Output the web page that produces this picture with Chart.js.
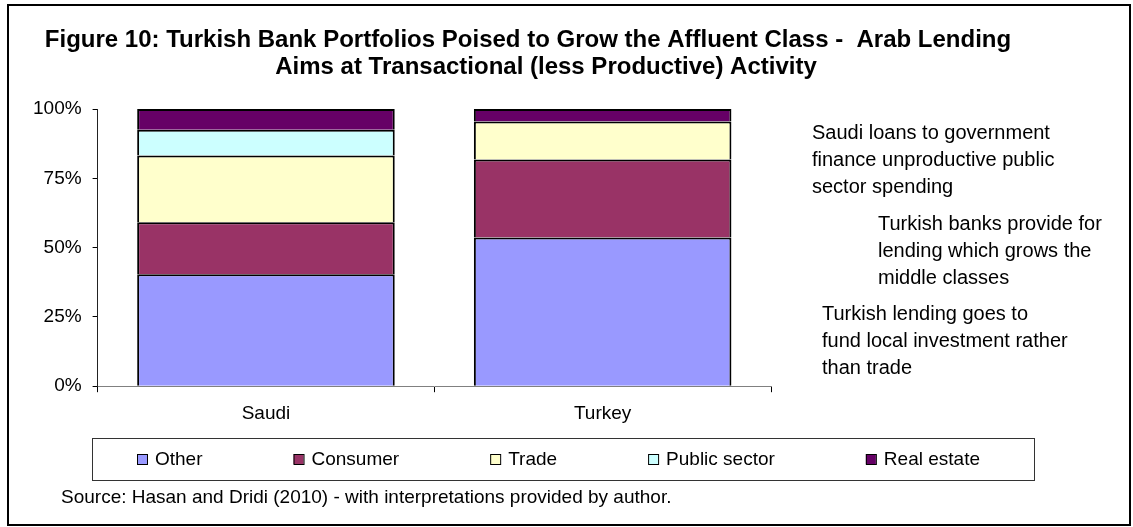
<!DOCTYPE html>
<html>
<head>
<meta charset="utf-8">
<script src="https://cdn.jsdelivr.net/npm/chart.js@4.4.1/dist/chart.umd.min.js"></script>
<style>
    html, body { margin: 0; padding: 0; background: #fff; }
    #wrap { width: 1133px; height: 527px; position: relative; }
</style>
</head>
<body>
<div id="wrap"><canvas id="portfolioChart"></canvas></div>
<script>
// data (shares of each portfolio, %)
const countries = ["Saudi", "Turkey"];
const other = [40.4, 53.6];
const consumer = [18.7, 28.2];
const trade = [24.1, 13.7];
const publicSector = [9.3, 0];
const realEstate = [7.5, 4.5];
const percentTicks = [0, 25, 50, 75, 100];

const seriesNames = ["Other", "Consumer", "Trade", "Public sector", "Real estate"];
const seriesColors = ["#9999FF", "#993366", "#FFFFCC", "#CCFFFF", "#660066"];

const titleLines = [
    "Figure 10: Turkish Bank Portfolios Poised to Grow the Affluent Class -  Arab Lending",
    "Aims at Transactional (less Productive) Activity"
];
const notes = [
    ["Saudi loans to government", "finance unproductive public", "sector spending"],
    ["Turkish banks provide for", "lending which grows the", "middle classes"],
    ["Turkish lending goes to", "fund local investment rather", "than trade"]
];
const sourceText = "Source: Hasan and Dridi (2010) - with interpretations provided by author.";

const FONT = "'Liberation Sans', Arial, sans-serif";

document.addEventListener("DOMContentLoaded", function () {
    const values = [other, consumer, trade, publicSector, realEstate];

    // frame, title, side notes, boxed legend and source line
    const extras = {
        id: "extras",
        afterDraw(chart) {
            const ctx = chart.ctx;
            ctx.save();

            ctx.strokeStyle = "#000";
            ctx.lineWidth = 2;
            ctx.strokeRect(8, 5, 1122, 520);

            ctx.fillStyle = "#000";
            ctx.textBaseline = "middle";
            ctx.textAlign = "center";
            ctx.font = "bold 24px " + FONT;
            ctx.fillText(titleLines[0], 528, 40);
            ctx.fillText(titleLines[1], 546, 67);

            ctx.textAlign = "left";
            ctx.font = "20px " + FONT;
            const noteX = [812, 878, 822];
            const noteY = [133, 224, 314];
            notes.forEach((lines, i) => {
                lines.forEach((t, j) => ctx.fillText(t, noteX[i], noteY[i] + j * 27));
            });

            // legend box
            ctx.lineWidth = 1;
            ctx.strokeStyle = "#333";
            ctx.strokeRect(92.5, 438.5, 942, 42);
            ctx.font = "19px " + FONT;
            let x = 137;
            chart.data.datasets.forEach(ds => {
                ctx.fillStyle = ds.backgroundColor;
                ctx.fillRect(x, 454, 10, 10);
                ctx.strokeStyle = "#000";
                ctx.strokeRect(x + 0.5, 454.5, 10, 10);
                ctx.fillStyle = "#000";
                ctx.fillText(ds.label, x + 18, 460);
                x += 18 + ctx.measureText(ds.label).width + 91;
            });

            ctx.fillText(sourceText, 61, 498);
            ctx.restore();
        }
    };

    new Chart(document.getElementById("portfolioChart"), {
        type: "bar",
        data: {
            labels: countries,
            datasets: seriesNames.map((name, i) => ({
                label: name,
                data: values[i],
                backgroundColor: seriesColors[i],
                borderColor: "#000",
                borderWidth: 2,
                categoryPercentage: 0.85,
                barPercentage: 0.9
            }))
        },
        options: {
            responsive: true,
            maintainAspectRatio: false,
            animation: false,
            layout: { padding: { left: 22, right: 362, top: 109, bottom: 92 } },
            plugins: {
                legend: { display: false },
                title: { display: false },
                tooltip: { enabled: false }
            },
            scales: {
                x: {
                    stacked: true,
                    ticks: { color: "#000", font: { family: FONT, size: 19 }, padding: 10 },
                    grid: { drawOnChartArea: false, tickLength: 6, color: "#000", offset: true },
                    border: { color: "#808080" }
                },
                y: {
                    stacked: true,
                    min: 0,
                    max: 100,
                    afterBuildTicks: axis => { axis.ticks = percentTicks.map(v => ({ value: v })); },
                    ticks: { color: "#000", font: { family: FONT, size: 19 }, padding: 11, callback: v => v + "%" },
                    grid: { drawOnChartArea: false, tickLength: 5, color: "#000" },
                    border: { color: "#222" }
                }
            }
        },
        plugins: [extras]
    });
});
</script>
</body>
</html>
